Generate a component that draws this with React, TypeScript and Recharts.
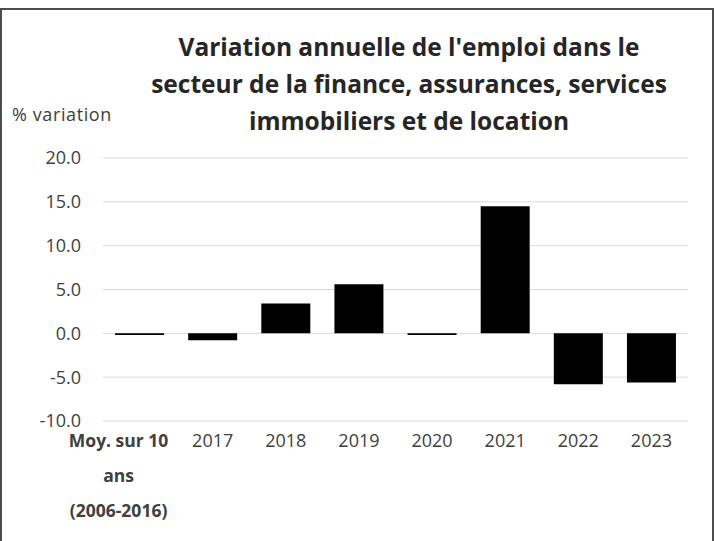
import React from 'react'
import { BarChart, Bar, XAxis, YAxis, CartesianGrid } from 'recharts'

const categories = ['Moy. sur 10\nans\n(2006-2016)', '2017', '2018', '2019', '2020', '2021', '2022', '2023']
const values = [-0.2, -0.8, 3.4, 5.6, -0.2, 14.5, -5.8, -5.6]
const yTicks = [-10, -5, 0, 5, 10, 15, 20]
const titleLines = [
  "Variation annuelle de l'emploi dans le",
  'secteur de la finance, assurances, services',
  'immobiliers et de location',
]

const data = categories.map((c, i) => ({ name: c, value: values[i] }))

const font = '"Open Sans", sans-serif'

function XTick(props: any) {
  const { x, y, payload } = props
  const lines: string[] = String(payload.value).split('\n')
  const bold = lines.length > 1
  const cx = bold ? x - 21 : x
  return (
    <text x={cx} y={y} textAnchor="middle" fill="#404040" fontSize={bold ? 17.5 : 18} fontFamily={font} fontWeight={bold ? 700 : 400}>
      {lines.map((l, i) => (
        <tspan key={i} x={cx} dy={i === 0 ? 18 : 35}>{l}</tspan>
      ))}
    </text>
  )
}

export default function App() {
  return (
    <div style={{ position: 'fixed', left: 0, top: 0, width: 714, height: 541, background: '#fff', overflow: 'hidden' }}>
      <div style={{ position: 'absolute', left: 0, top: 8, width: 714, height: 560, boxSizing: 'border-box', border: '2px solid #4d4d4d' }} />
      <div style={{ position: 'absolute', left: 0, top: 28, width: 818, textAlign: 'center', fontFamily: font, fontWeight: 700, fontSize: 24.5, lineHeight: '37px', color: '#262626' }}>
        {titleLines.map((t, i) => <div key={i}>{t}</div>)}
      </div>
      <div style={{ position: 'absolute', left: 12, top: 102, fontFamily: font, fontSize: 18, letterSpacing: 0.6, color: '#404040' }}>% variation</div>
      <div style={{ position: 'absolute', left: 0, top: 0 }}>
        <BarChart width={714} height={541} data={data} margin={{ top: 158, right: 26, bottom: 30, left: 0 }} barCategoryGap="16.5%">
          <CartesianGrid horizontal vertical={false} stroke="#d9d9d9" />
          <XAxis dataKey="name" height={90} axisLine={false} tickLine={false} interval={0} tick={<XTick />} />
          <YAxis
            width={103}
            domain={[-10, 20]}
            ticks={yTicks}
            axisLine={false}
            tickLine={false}
            tickMargin={16}
            tickFormatter={(v: number) => v.toFixed(1)}
            tick={{ fill: '#404040', fontSize: 18, fontFamily: font }}
          />
          <Bar dataKey="value" fill="#000" isAnimationActive={false} />
        </BarChart>
      </div>
    </div>
  )
}
